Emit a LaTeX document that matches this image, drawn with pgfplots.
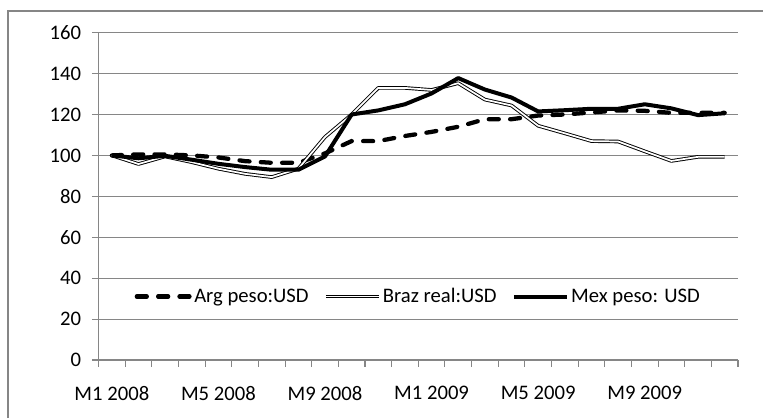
\documentclass[border=0pt]{standalone}
\usepackage{fontspec}
\setmainfont{Carlito}
\usepackage{pgfplots}
\pgfplotsset{compat=1.18}
\usetikzlibrary{calc}
\definecolor{xlgray}{HTML}{868686}

\begin{document}
\begin{tikzpicture}
  \begin{axis}[
    name=ax,
    scale only axis,
    width=479.6pt, height=245.5pt,
    xmin=-0.5, xmax=23.5,
    ymin=0, ymax=160,
    ytick={0,20,...,160},
    xtick={-0.5,0.5,...,23.5},
    xticklabels={},
    extra x ticks={0,4,8,12,16,20},
    extra x tick labels={M1 2008, M5 2008, M9 2008, M1 2009, M5 2009, M9 2009},
    extra x tick style={major tick length=0pt,
      tick label style={yshift=-16pt}},
    yticklabel style={xshift=-4.5pt},
    axis x line*=bottom, axis y line*=left,
    axis line style={xlgray, line width=0.8pt},
    tick style={xlgray, line width=0.8pt},
    major tick length=5pt,
    tick align=outside,
    ymajorgrids=true,
    major grid style={xlgray, line width=0.8pt},
    tick label style={font=\fontsize{15.5}{17}\selectfont, black},
    /pgf/number format/assume math mode=true,
    legend columns=3,
    legend style={at={(0.5,0.194)}, anchor=center, draw=none, fill=none,
      font=\fontsize{15.5}{17}\selectfont,
      nodes={inner xsep=1.5pt},
      /tikz/every even column/.append style={column sep=10pt}},
    legend image code/.code={\draw[#1] (0pt,0pt) -- (40pt,0pt);},
    clip=false,
  ]
    % Arg peso:USD
    \addplot[black, line width=3.2pt, line cap=round, dash pattern=on 7.5pt off 8.5pt]
      coordinates {
      (0,100) (1,100.5) (2,100.5) (3,100) (4,99) (5,97.2) (6,96.4) (7,96.4)
      (8,101) (9,107) (10,107) (11,109.5) (12,111.5) (13,114) (14,117.7) (15,117.7)
      (16,119.5) (17,120) (18,121) (19,122) (20,121.8) (21,120.8) (22,120.8) (23,120.8)};
    \addlegendentry{Arg peso:USD}
    % Braz real:USD
    \addplot[black, line width=0.7pt, double=white, double distance=1.3pt, line join=round]
      coordinates {
      (0,100) (1,95.8) (2,99.5) (3,96.7) (4,93.5) (5,91) (6,89.4) (7,93.5)
      (8,109) (9,120) (10,133) (11,133) (12,132) (13,135.3) (14,127.3) (15,124.4)
      (16,114.5) (17,110.8) (18,107) (19,106.8) (20,102) (21,97.3) (22,99.3) (23,99.3)};
    \addlegendentry{Braz real:USD}
    % Mex peso: USD
    \addplot[black, line width=3pt, line join=round]
      coordinates {
      (0,100) (1,98.6) (2,99.8) (3,97.9) (4,95.9) (5,94.3) (6,93) (7,93)
      (8,99.5) (9,120) (10,122) (11,125) (12,130.3) (13,137.8) (14,132.2) (15,128.3)
      (16,121.5) (17,122.1) (18,122.8) (19,122.8) (20,125) (21,123) (22,119.7) (23,120.6)};
    \addlegendentry{Mex peso: USD}
    \coordinate (bl) at (rel axis cs:0,0);
  \end{axis}
  \pgfresetboundingbox
  \coordinate (p0) at ($(bl)+(-73.9pt,-43.5pt)$);
  \useasboundingbox (p0) rectangle ($(p0)+(572.25pt,313.5pt)$);
  \draw[xlgray, line width=0.8pt]
    ($(p0)+(6pt,0pt)$) -- ($(p0)+(6pt,305.25pt)$) -- ($(p0)+(572.25pt,305.25pt)$);
\end{tikzpicture}
\end{document}
